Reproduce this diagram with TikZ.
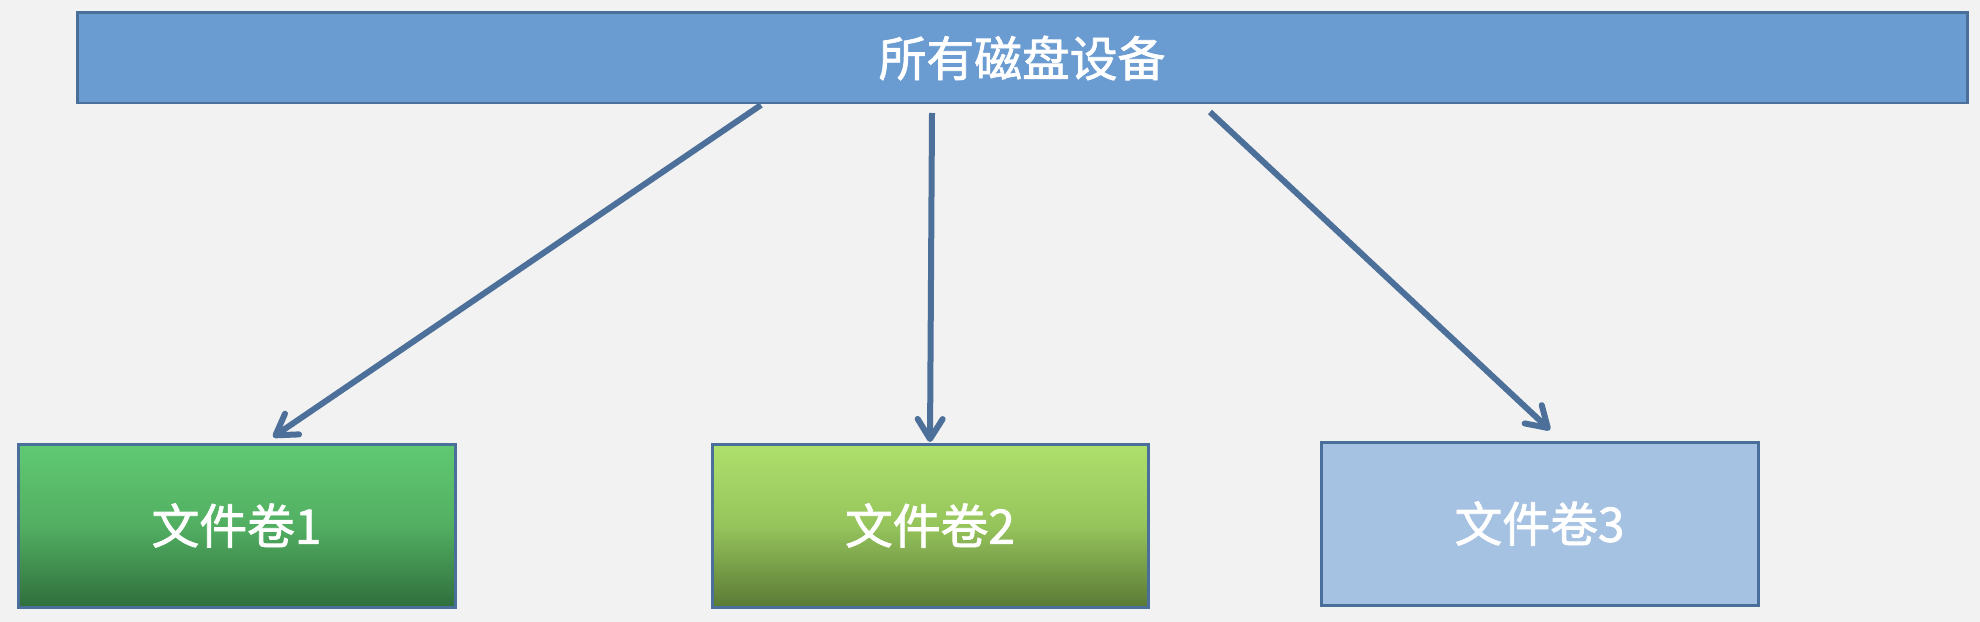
\documentclass[tikz,border=0pt]{standalone}
\usepackage{fontspec}
\setmainfont{Noto Sans CJK SC}[FakeBold=1.6]
\usetikzlibrary{arrows.meta}
\begin{document}
\begin{tikzpicture}[x=0.05cm, y=-0.05cm,
  box/.style = {draw = boxline, line width = 0.15cm, outer sep = 0, inner sep = 0,
    text = white, font = \fontsize{68}{72}\selectfont},
  link/.style = {draw = linkcolor, line width = 0.3cm,
    -{Straight Barb[round, length = 1.0cm, width = 1.25cm]}}]
\definecolor{bgcolor}{RGB}{242,242,242}
\definecolor{boxline}{RGB}{74,111,155}
\definecolor{linkcolor}{RGB}{76,112,154}
\definecolor{topfill}{RGB}{106,155,209}
\definecolor{volfill}{RGB}{166,194,226}
\fill [bgcolor] (0,0) rectangle (1980,622);
\useasboundingbox (0,0) rectangle (1980,622);
% disks on top, volumes below
\node [box, fill = topfill, minimum width = 1890*0.05cm, minimum height = 90*0.05cm] (disks) at (1022,58) {所有磁盘设备};
\node [box, top color = {rgb,255:red,96;green,201;blue,114}, bottom color = {rgb,255:red,47;green,110;blue,60},
  middle color = {rgb,255:red,82;green,175;blue,98}, minimum width = 437*0.05cm, minimum height = 163*0.05cm] (vol1) at (236.5,525.5) {文件卷1};
\node [box, top color = {rgb,255:red,174;green,224;blue,108}, bottom color = {rgb,255:red,90;green,122;blue,53},
  middle color = {rgb,255:red,150;green,196;blue,92}, minimum width = 436*0.05cm, minimum height = 163*0.05cm] (vol2) at (930,525.5) {文件卷2};
\node [box, fill = volfill, minimum width = 437*0.05cm, minimum height = 163*0.05cm] (vol3) at (1539.5,523.5) {文件卷3};
\draw [link] ([shift = {(-261,2)}]disks.south) -- ([shift = {(36.5,-7)}]vol1.north);
\draw [link] ([shift = {(-90,10)}]disks.south) -- ([shift = {(0,-2)}]vol2.north);
\draw [link] ([shift = {(188,9)}]disks.south) -- ([shift = {(10.5,-12)}]vol3.north);
\end{tikzpicture}
\end{document}
